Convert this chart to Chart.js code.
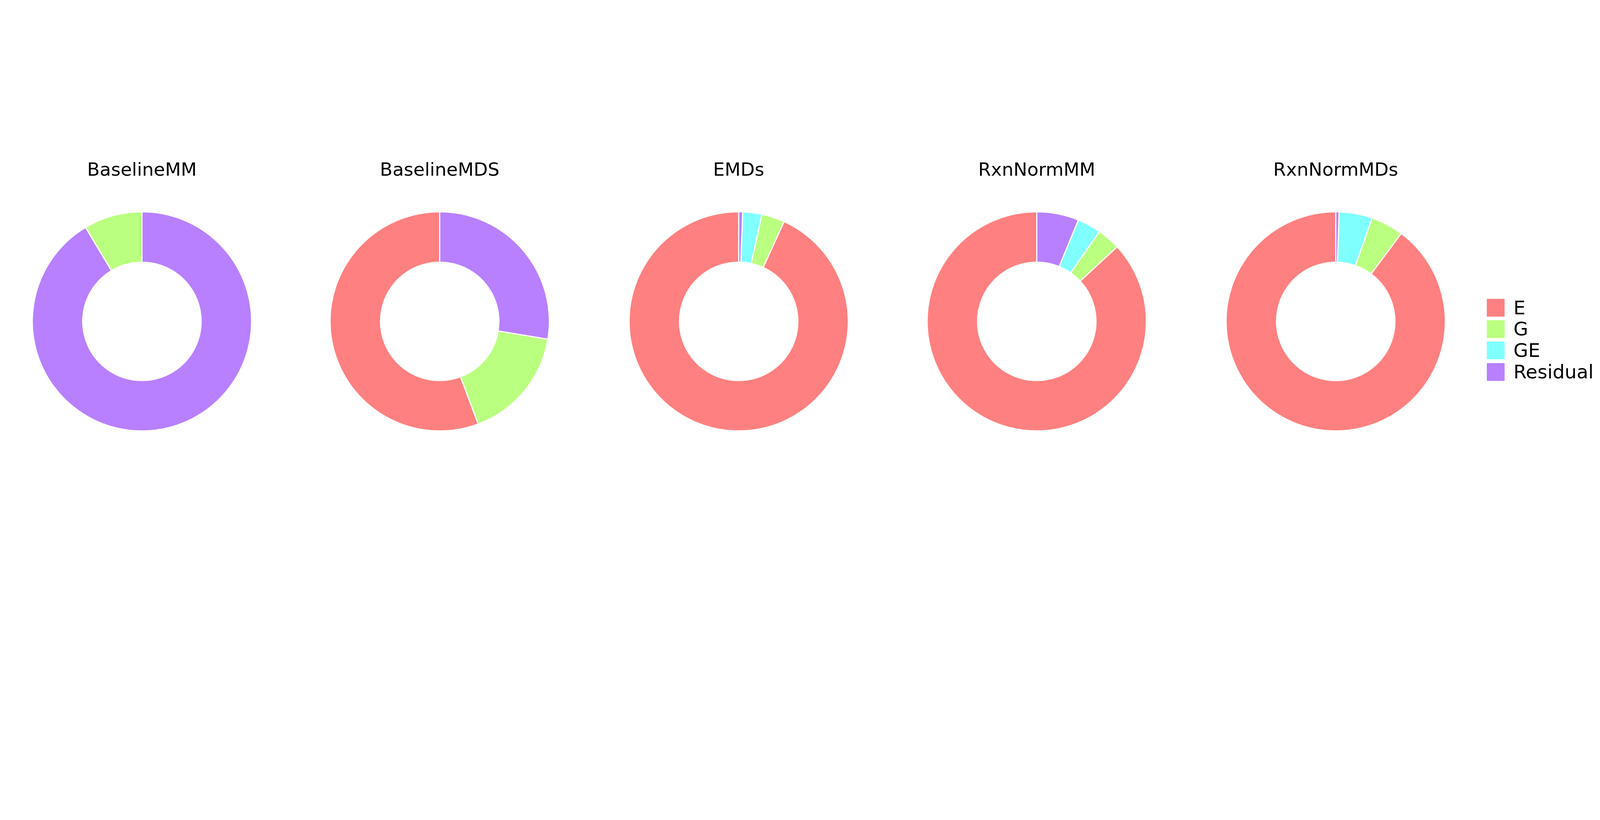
<!DOCTYPE html>
<html><head><meta charset="utf-8">
<script src="https://cdn.jsdelivr.net/npm/chart.js@4"></script>
<style>
html,body{margin:0;background:#fff;overflow:hidden;}
#wrap{width:5400px;height:2100px;position:absolute;left:0;top:0;transform-origin:0 0;font-family:"DejaVu Sans",sans-serif;}
canvas{position:absolute;}
.t{position:absolute;font-size:62px;color:#000;transform:translateX(-50%);white-space:nowrap;}
.lg{position:absolute;left:5018px;font-size:64px;display:flex;align-items:center;}
.lg span{display:inline-block;width:60px;height:60px;margin-right:30px;}
</style></head><body>
<div id="wrap"></div>
<script>
const titles = ["BaselineMM","BaselineMDS","EMDs","RxnNormMM","RxnNormMDs"];
const categories = ["E","G","GE","Residual"];
const E = [0, 55.7, 93.2, 86.9, 89.8];
const G = [8.6, 16.7, 3.4, 3.4, 4.8];
const GE = [0, 0, 2.8, 3.5, 4.9];
const Residual = [91.4, 27.6, 0.6, 6.2, 0.5];
const colors = {E:"#FF8080",G:"#BBFF80",GE:"#80FFFF",Residual:"#B880FF"};
const wrap = document.getElementById('wrap');
wrap.style.transform = 'scale(' + (window.innerWidth/5400) + ')';
const centersX = [479,1484,2493,3499,4508];
const cy = 1085, R = 372, S = 760;
const drawOrder = ["Residual","GE","G","E"];
const series = {E,G,GE,Residual};
titles.forEach((t,i)=>{
  const d=document.createElement('div');d.className='t';d.textContent=t;
  d.style.left=centersX[i]+'px';d.style.top='535px';wrap.appendChild(d);
  const c=document.createElement('canvas');
  c.style.left=(centersX[i]-S/2)+'px';c.style.top=(cy-S/2)+'px';c.style.width=S+'px';c.style.height=S+'px';
  c.width=S;c.height=S;
  wrap.appendChild(c);
  new Chart(c,{type:'doughnut',data:{labels:drawOrder,datasets:[{
    data:drawOrder.map(k=>series[k][i]),
    backgroundColor:drawOrder.map(k=>colors[k]),
    borderColor:'#fff',borderWidth:4}]},
    options:{responsive:false,animation:false,cutout:'54%',devicePixelRatio:1,
      layout:{padding:(S/2-R)},
      plugins:{legend:{display:false},tooltip:{enabled:false}}}});
});
const rows=[1037,1109,1181,1254];
categories.forEach((k,j)=>{
  const d=document.createElement('div');d.className='lg';
  d.style.top=(rows[j]-35)+'px';
  const s=document.createElement('span');s.style.background=colors[k];
  d.appendChild(s);d.appendChild(document.createTextNode(k));wrap.appendChild(d);
});
</script>
</body></html>
